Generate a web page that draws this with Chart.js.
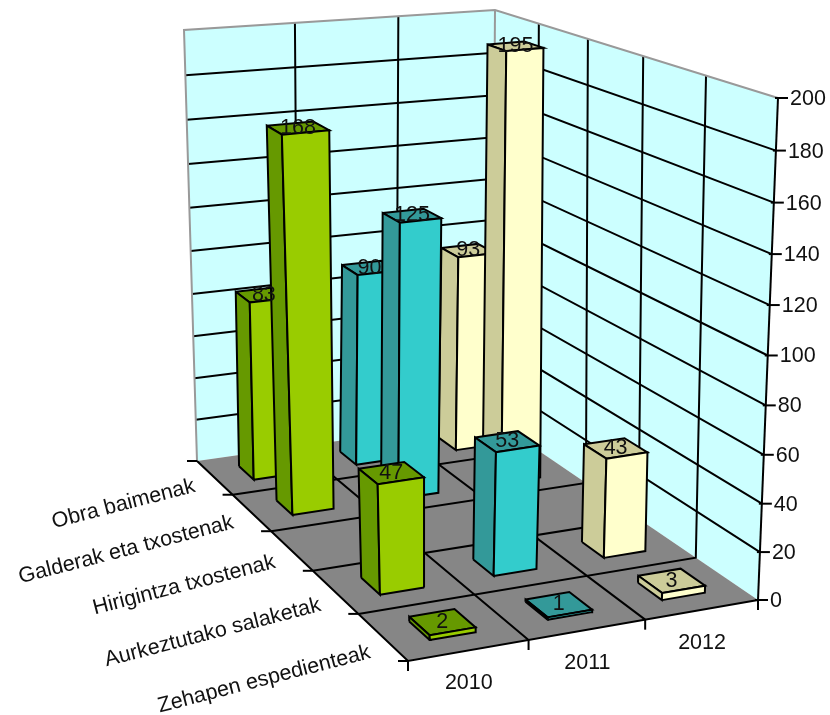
<!DOCTYPE html>
<html><head><meta charset="utf-8">
<style>html,body{margin:0;padding:0;background:#fff}canvas{display:block}</style>
<script src="https://cdn.jsdelivr.net/npm/chart.js@4"></script>
</head><body><canvas id="c" width="830" height="715"></canvas>
<script>
const categories = ['Obra baimenak','Galderak eta txostenak','Hirigintza txostenak','Aurkeztutako salaketak','Zehapen espedienteak'];
const years = ['2010','2011','2012'];
const values2010 = [83,168,null,47,2];
const values2011 = [90,125,null,53,1];
const values2012 = [93,195,null,43,3];
const valueTicks = [0,20,40,60,80,100,120,140,160,180,200];
const axisMax = 200;

const seriesValues = [values2010,values2011,values2012];
const faceColors = [
  {front:'#99CC00',dark:'#669900'},
  {front:'#33CCCC',dark:'#339999'},
  {front:'#FFFFCC',dark:'#CCCC99'}
];
// projection: floor and ceiling quads of the 3D box
function homography(Q){
  const [[x0,y0],[x1,y1],[x2,y2],[x3,y3]] = Q;
  const dx1=x1-x2,dx2=x3-x2,sx=x0-x1+x2-x3,dy1=y1-y2,dy2=y3-y2,sy=y0-y1+y2-y3;
  const den=dx1*dy2-dx2*dy1;
  const g=(sx*dy2-dx2*sy)/den,h=(dx1*sy-sx*dy1)/den;
  const m={a:x1-x0+g*x1,b:x3-x0+h*x3,c:x0,d:y1-y0+g*y1,e:y3-y0+h*y3,f:y0,g,h};
  return (u,v)=>{const w=m.g*u+m.h*v+1;return {x:(m.a*u+m.b*v+m.c)/w,y:(m.d*u+m.e*v+m.f)/w};};
}
const floorMap=homography([[197,461],[492,419],[758,600],[408,661]]);
const wallCeil=homography([[184,30],[495,10],[778,98],[380,140]]);
const barCeil=homography([[184,30],[495,10],[778,98],[398,154]]);
function project(ceil,u,v,val){
  const t=(val||0)/axisMax;
  const s=t/(1+0.053*(1-t));
  const a=floorMap(u,v),b=ceil(u,v);
  return {x:a.x+(b.x-a.x)*s,y:a.y+(b.y-a.y)*s};
}
const proj=(u,v,val)=>project(wallCeil,u,v,val);
const barProj=(u,v,val)=>project(barCeil,u,v,val);
const nY=years.length,nC=categories.length;
const datasets=[];
function poly(label,pts,fillColor,lineColor,lw){
  const closed=fillColor?[...pts,pts[0]]:pts;
  datasets.push({type:'line',label,data:closed,parsing:false,
    fill:fillColor?'shape':false,backgroundColor:fillColor||'transparent',
    borderColor:lineColor||'transparent',borderWidth:lw===undefined?2:lw,
    pointRadius:0,tension:0,clip:false,borderJoinStyle:'miter'});
}
const WALL='#CCFFFF',GRID='#000000',EDGE='#999999',FLOOR='#868686';
poly('back wall',[proj(0,0,0),proj(1,0,0),proj(1,0,axisMax),proj(0,0,axisMax)],WALL,null,0);
poly('side wall',[proj(1,0,0),proj(1,1,0),proj(1,1,axisMax),proj(1,0,axisMax)],WALL,null,0);
poly('floor',[proj(0,0,0),proj(1,0,0),proj(1,1,0),proj(0,1,0)],FLOOR,null,0);
valueTicks.forEach(t=>{
  if(t===0||t===axisMax) return;
  poly('grid '+t,[proj(0,0,t),proj(1,0,t),proj(1,1,t)],null,GRID,2);
});
for(let i=1;i<nY;i++){
  poly('wall grid '+i,[proj(i/nY,0,axisMax),proj(i/nY,0,0),proj(i/nY,1,0)],null,GRID,2);
}
for(let j=1;j<nC;j++){
  poly('side grid '+j,[proj(0,j/nC,0),proj(1,j/nC,0),proj(1,j/nC,axisMax)],null,GRID,2);
}
poly('top edge',[proj(0,0,0),proj(0,0,axisMax),proj(1,0,axisMax),proj(1,1,axisMax)],null,EDGE,2);
poly('corner edge',[proj(1,0,0),proj(1,0,axisMax)],null,EDGE,2);
poly('floor edges',[proj(0,0,0),proj(0,1,0),proj(1,1,0)],null,GRID,2);
poly('value axis',[proj(1,1,0),proj(1,1,axisMax)],null,GRID,2);

const wU=0.385,wV=0.40,cU=0.5;
const labelsToDraw=[];
for(let j=0;j<nC;j++){
  for(let i=nY-1;i>=0;i--){
    const val=seriesValues[i][j];
    if(val===null) continue;
    const u0=(i+cU-wU/2)/nY,u1=(i+cU+wU/2)/nY,v0=(j+.5-wV/2)/nC,v1=(j+.5+wV/2)/nC;
    const c=faceColors[i],name=years[i]+' / '+categories[j],P=barProj;
    poly(name+' top',[P(u0,v0,val),P(u1,v0,val),P(u1,v1,val),P(u0,v1,val)],c.dark,'#000',2);
    poly(name+' side',[P(u0,v0,0),P(u0,v1,0),P(u0,v1,val),P(u0,v0,val)],c.dark,'#000',2);
    poly(name+' front',[P(u0,v1,0),P(u1,v1,0),P(u1,v1,val),P(u0,v1,val)],c.front,'#000',2);
    labelsToDraw.push({val,p:P((u0+u1)/2,(v0+v1)/2,val)});
  }
}
datasets.forEach((d,i)=>{d.order=datasets.length-i;});

const textPlugin={id:'text3d',afterDatasetsDraw(chart){
  const ctx=chart.ctx,sx=chart.scales.x,sy=chart.scales.y;
  const px=p=>({x:sx.getPixelForValue(p.x),y:sy.getPixelForValue(p.y)});
  ctx.save();
  ctx.strokeStyle='#000';ctx.lineWidth=2;ctx.fillStyle='#111';ctx.font='21.5px "Liberation Sans"';
  const seg=(a,dx,dy)=>{ctx.beginPath();ctx.moveTo(a.x,a.y);ctx.lineTo(a.x+dx,a.y+dy);ctx.stroke();};
  ctx.textAlign='left';ctx.textBaseline='middle';
  chart.scales.value.ticks.forEach(t=>{
    const a=px(proj(1,1,t.value));
    ctx.beginPath();ctx.moveTo(a.x-3,a.y);ctx.lineTo(a.x+10,a.y);ctx.stroke();
    ctx.fillText(t.label,a.x+12,a.y+1);
  });
  ctx.textAlign='center';
  for(let i=0;i<=nY;i++){
    seg(px(proj(i/nY,1,0)),0,10);
  }
  years.forEach((y,i)=>{
    const a=px(proj((i+.5)/nY,1,0));
    ctx.fillText(y,a.x,a.y+33);
  });
  for(let j=0;j<=nC;j++){
    seg(px(proj(0,j/nC,0)),-10,0);
  }
  categories.forEach((n,j)=>{
    const a=px(proj(0,(j+1)/nC,0));
    ctx.save();
    ctx.translate(a.x-38,a.y-9);
    ctx.rotate(-14.5*Math.PI/180);
    ctx.textAlign='right';
    ctx.fillText(n,0,0);
    ctx.restore();
  });
  ctx.textAlign='center';
  labelsToDraw.forEach(l=>{
    const a=px(l.p);
    ctx.fillText(String(l.val),a.x,a.y);
  });
  ctx.restore();
}};
new Chart(document.getElementById('c'),{
  data:{datasets},
  options:{responsive:false,animation:false,
    layout:{padding:0},
    plugins:{legend:{display:false},tooltip:{enabled:false}},
    scales:{
      x:{type:'linear',min:0,max:830,display:false},
      y:{type:'linear',min:0,max:715,reverse:true,display:false},
      value:{type:'linear',axis:'y',min:0,max:axisMax,display:false,ticks:{stepSize:20}}
    }
  },
  plugins:[textPlugin]
});
</script></body></html>
